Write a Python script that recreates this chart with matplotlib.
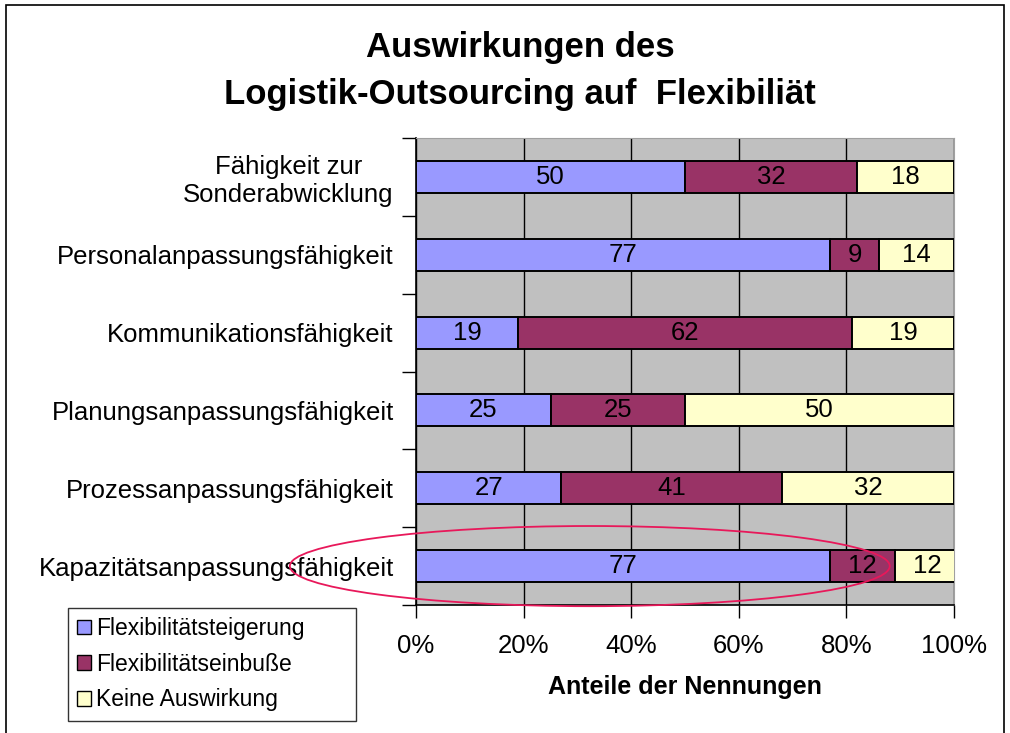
import matplotlib.pyplot as plt
import numpy as np
from matplotlib.patches import Ellipse, Rectangle

plt.rcParams['font.family'] = ['Liberation Sans', 'DejaVu Sans']

categories = [
    'Fähigkeit zur\nSonderabwicklung',
    'Personalanpassungsfähigkeit',
    'Kommunikationsfähigkeit',
    'Planungsanpassungsfähigkeit',
    'Prozessanpassungsfähigkeit',
    'Kapazitätsanpassungsfähigkeit',
]
steigerung = [50, 77, 19, 25, 27, 77]
einbusse = [32, 9, 62, 25, 41, 12]
keine = [18, 14, 19, 50, 32, 12]

series_names = ['Flexibilitätsteigerung', 'Flexibilitätseinbuße', 'Keine Auswirkung']
series_colors = ['#9999FF', '#993366', '#FFFFCC']
x_ticks = [0, 20, 40, 60, 80, 100]


def main():
    fig = plt.figure(figsize=(10.1, 7.33), dpi=100)
    ax = fig.add_axes([0.4119, 0.1746, 0.5327, 0.6371])
    ax.set_facecolor('#C0C0C0')

    ypos = np.arange(len(categories))[::-1]
    left = np.zeros(len(categories))
    handles = []
    for values, name, color in zip([steigerung, einbusse, keine], series_names, series_colors):
        vals = np.array(values, dtype=float)
        bars = ax.barh(ypos, vals, left=left, height=0.41, color=color,
                       edgecolor='black', linewidth=1.4, label=name, zorder=3)
        handles.append(bars)
        for y, l, v in zip(ypos, left, vals):
            ax.text(l + v / 2, y, f'{int(v)}', ha='center', va='center',
                    fontsize=18.5, color='black', zorder=4)
        left += vals

    ax.set_xlim(0, 100)
    ax.set_ylim(-0.5, len(categories) - 0.5)
    ax.set_xticks(x_ticks)
    ax.set_xticklabels([f'{t}%' for t in x_ticks], fontsize=18.5)
    ax.tick_params(axis='x', length=9, width=1, pad=12, color='black')
    ax.set_yticks(ypos)
    ax.set_yticklabels(categories, fontsize=18.5)
    ax.tick_params(axis='y', which='major', length=0, pad=16)
    ax.set_yticks(np.arange(-0.5, len(categories), 1.0), minor=True)
    ax.tick_params(axis='y', which='minor', length=10, width=1, color='black')
    for lab in ax.get_yticklabels():
        lab.set_multialignment('center')

    ax.xaxis.grid(True, color='black', linewidth=1)
    ax.set_axisbelow(True)
    for side in ['top', 'right']:
        ax.spines[side].set_color('#A0A0A0')
    for side in ['left', 'bottom']:
        ax.spines[side].set_color('black')
        ax.spines[side].set_linewidth(1.2)

    ax.set_xlabel('Anteile der Nennungen', fontsize=18, fontweight='bold', labelpad=12)

    fig.text(0.515, 0.935, 'Auswirkungen des', ha='center', va='center',
             fontsize=25, fontweight='bold')
    fig.text(0.515, 0.871, 'Logistik-Outsourcing auf  Flexibiliät', ha='center', va='center',
             fontsize=25, fontweight='bold')

    # highlight ellipse around the last category
    ax.add_patch(Ellipse((32.3, 0), 111.5, 1.03, fill=False, edgecolor='#E8185A',
                         linewidth=1.3, clip_on=False, zorder=5))

    leg = fig.legend(handles=handles, labels=series_names, loc='lower left',
                     bbox_to_anchor=(0.067, 0.017, 0.285, 0.155), mode='expand',
                     fontsize=16.5, frameon=True, fancybox=False, edgecolor='black',
                     handlelength=0.6, handleheight=0.6, handletextpad=0.25,
                     borderpad=0.4, labelspacing=0.55, borderaxespad=0)
    leg.get_frame().set_linewidth(1)
    for h in leg.legend_handles:
        h.set_linewidth(1)

    fig.patches.append(Rectangle((0.006, -0.05), 0.988, 1.043, transform=fig.transFigure,
                                 fill=False, edgecolor='black', linewidth=1.2))

    fig.savefig('out.png', dpi=100, facecolor='white')


if __name__ == '__main__':
    main()
